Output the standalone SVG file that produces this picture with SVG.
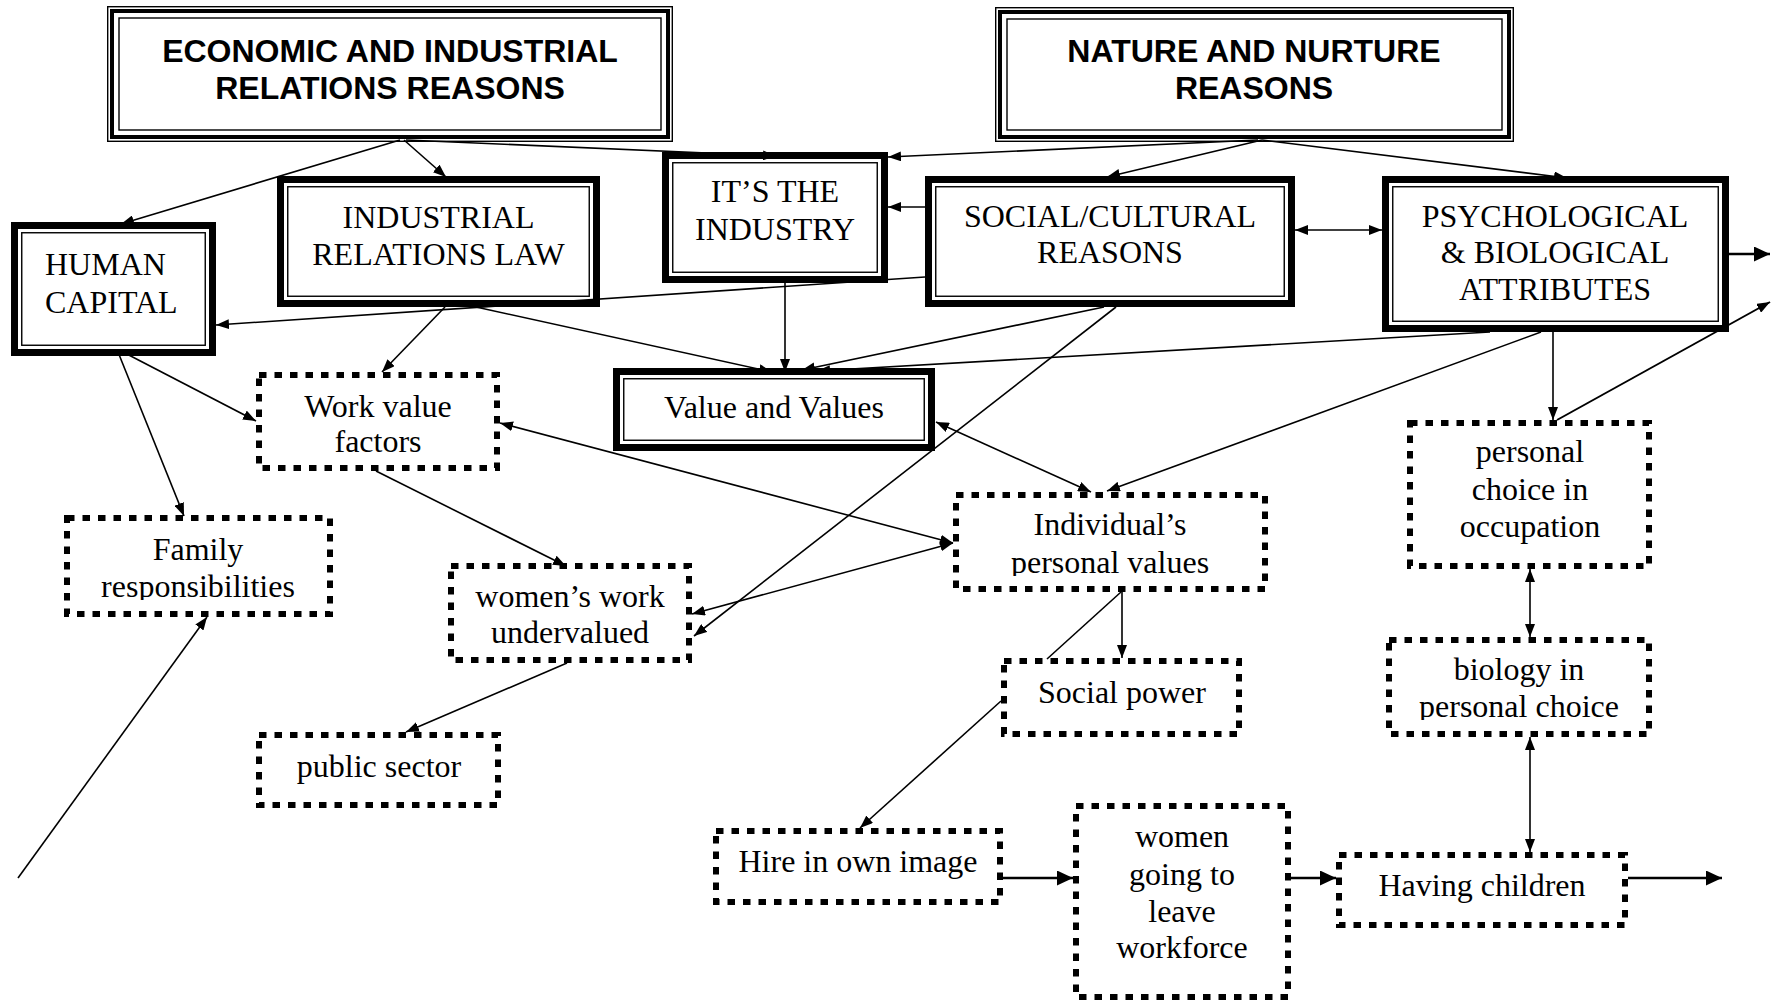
<svg xmlns="http://www.w3.org/2000/svg" width="1781" height="1003" viewBox="0 0 1781 1003">
<style>
.bg{fill:#fff}
.th{fill:none;stroke:#000;stroke-width:1.4}
.tk4{fill:none;stroke:#000;stroke-width:4}
.tk7{fill:#fff;stroke:#000;stroke-width:7}
.dot{fill:#fff;stroke:#000;stroke-width:6;stroke-dasharray:7.5 8}
.t{font-family:"Liberation Serif","Times New Roman",serif;font-size:32px;text-anchor:middle;fill:#000}
.tl{text-anchor:start}
.h{font-family:"Liberation Sans",Arial,sans-serif;font-size:32px;font-weight:bold;text-anchor:middle;fill:#000}
.c{fill:none;stroke:#000;stroke-width:1.6;marker-end:url(#a)}
.d{marker-start:url(#a)}
.n{marker-end:none}
.w{fill:none;stroke:#000;stroke-width:2.6;marker-end:url(#b)}
</style>
<defs>
<marker id="a" viewBox="0 0 13 10" refX="13" refY="5" markerWidth="13" markerHeight="10" orient="auto-start-reverse" markerUnits="userSpaceOnUse"><path d="M0,0L13,5L0,10z" fill="#000"/></marker>
<marker id="b" viewBox="0 0 16 15" refX="16" refY="7.5" markerWidth="16" markerHeight="15" orient="auto-start-reverse" markerUnits="userSpaceOnUse"><path d="M0,0L16,7.5L0,15z" fill="#000"/></marker>
<clipPath id="cpFam"><rect x="60" y="510" width="280" height="90"/></clipPath>
<clipPath id="cpInd"><rect x="950" y="488" width="320" height="88"/></clipPath>
<clipPath id="cpBio"><rect x="1380" y="632" width="280" height="88"/></clipPath>
</defs>
<rect class="bg" x="0" y="0" width="1781" height="1003"/>

<g id="econ">
<rect class="bg" x="107" y="6" width="566" height="136"/>
<rect class="th" x="107.7" y="6.7" width="564.6" height="134.6"/>
<rect class="tk4" x="112" y="11" width="556" height="126"/>
<rect class="th" x="119" y="18" width="542" height="112"/>
<text class="h" x="390" y="62">ECONOMIC AND INDUSTRIAL</text>
<text class="h" x="390" y="99">RELATIONS REASONS</text>
</g>

<g id="nature">
<rect class="bg" x="995" y="7" width="519" height="135"/>
<rect class="th" x="995.7" y="7.7" width="517.6" height="133.6"/>
<rect class="tk4" x="1000" y="12" width="509" height="125"/>
<rect class="th" x="1007" y="19" width="495" height="111"/>
<text class="h" x="1254" y="62">NATURE AND NURTURE</text>
<text class="h" x="1254" y="99">REASONS</text>
</g>

<g id="human-capital">
<rect class="tk7" x="14.5" y="225.5" width="198" height="127"/>
<rect class="th" x="21.75" y="232.75" width="183.5" height="112.5"/>
<text class="t tl" x="45" y="275">HUMAN</text>
<text class="t tl" x="45" y="313">CAPITAL</text>
</g>

<g id="ir-law">
<rect class="tk7" x="280.5" y="179.5" width="316" height="124"/>
<rect class="th" x="287.75" y="186.75" width="301.5" height="109.5"/>
<text class="t" x="438.5" y="228">INDUSTRIAL</text>
<text class="t" x="438.5" y="265">RELATIONS LAW</text>
</g>

<g id="industry">
<rect class="tk7" x="665.5" y="155.5" width="219" height="124"/>
<rect class="th" x="672.75" y="162.75" width="204.5" height="109.5"/>
<text class="t" x="775" y="202">IT’S THE</text>
<text class="t" x="775" y="240">INDUSTRY</text>
</g>

<g id="social">
<rect class="tk7" x="928.5" y="179.5" width="363" height="124"/>
<rect class="th" x="935.75" y="186.75" width="348.5" height="109.5"/>
<text class="t" x="1110" y="227">SOCIAL/CULTURAL</text>
<text class="t" x="1110" y="263">REASONS</text>
</g>

<g id="psych">
<rect class="tk7" x="1385.5" y="179.5" width="340" height="149"/>
<rect class="th" x="1392.75" y="186.75" width="325.5" height="134.5"/>
<text class="t" x="1555" y="227">PSYCHOLOGICAL</text>
<text class="t" x="1555" y="263">&amp; BIOLOGICAL</text>
<text class="t" x="1555" y="300">ATTRIBUTES</text>
</g>

<g id="value-values">
<rect class="tk7" x="616.5" y="371.5" width="315" height="76"/>
<rect class="th" x="623.75" y="378.75" width="300.5" height="61.5"/>
<text class="t" x="774" y="418">Value and Values</text>
</g>

<g id="work-value">
<rect class="dot" x="259" y="375" width="238" height="93"/>
<text class="t" x="378" y="417">Work value</text>
<text class="t" x="378" y="452">factors</text>
</g>

<g id="family">
<rect class="dot" x="67" y="518" width="263" height="96"/>
<g clip-path="url(#cpFam)">
<text class="t" x="198" y="560">Family</text>
<text class="t" x="198" y="597">responsibilities</text>
</g>
</g>

<g id="womens-work">
<rect class="dot" x="451" y="566" width="238" height="94"/>
<text class="t" x="570" y="607">women’s work</text>
<text class="t" x="570" y="643">undervalued</text>
</g>

<g id="public-sector">
<rect class="dot" x="259" y="735" width="239" height="70"/>
<text class="t" x="379" y="777">public sector</text>
</g>

<g id="individual">
<rect class="dot" x="956" y="495" width="309" height="94"/>
<g clip-path="url(#cpInd)">
<text class="t" x="1110" y="535">Individual’s</text>
<text class="t" x="1110" y="573">personal values</text>
</g>
</g>

<g id="social-power">
<rect class="dot" x="1004" y="661" width="235" height="73"/>
<text class="t" x="1122" y="703">Social power</text>
</g>

<g id="personal-choice">
<rect class="dot" x="1410" y="423" width="239" height="143"/>
<text class="t" x="1530" y="462">personal</text>
<text class="t" x="1530" y="500">choice in</text>
<text class="t" x="1530" y="537">occupation</text>
</g>

<g id="biology">
<rect class="dot" x="1389" y="640" width="260" height="94"/>
<g clip-path="url(#cpBio)">
<text class="t" x="1519" y="680">biology in</text>
<text class="t" x="1519" y="717">personal choice</text>
</g>
</g>

<g id="hire">
<rect class="dot" x="716" y="831" width="284" height="71"/>
<text class="t" x="858" y="872">Hire in own image</text>
</g>

<g id="women-leave">
<rect class="dot" x="1076" y="806" width="212" height="191"/>
<text class="t" x="1182" y="847">women</text>
<text class="t" x="1182" y="885">going to</text>
<text class="t" x="1182" y="922">leave</text>
<text class="t" x="1182" y="958">workforce</text>
</g>

<g id="having-children">
<rect class="dot" x="1339" y="855" width="286" height="70"/>
<text class="t" x="1482" y="896">Having children</text>
</g>

<g id="connectors">
<path class="c" d="M400,140L121,224"/>
<path class="c" d="M404,140L446,177"/>
<path class="c" d="M406,140L776,156"/>
<path class="c" d="M1258,140L888,157"/>
<path class="c" d="M1262,140L1107,177"/>
<path class="c" d="M1262,140L1567,178"/>
<path class="c" d="M925,207L888,207"/>
<path class="c d" d="M1295,230L1382,230"/>
<path class="c" d="M925,277L216,325"/>
<path class="c" d="M1104,307L802,370"/>
<path class="c" d="M1116,307L694,636"/>
<path class="c" d="M785,283L785,372"/>
<path class="c" d="M476,307L772,372"/>
<path class="c" d="M1490,332L817,371"/>
<path class="c" d="M445,307L382,372"/>
<path class="c" d="M123,352L256,421"/>
<path class="c" d="M118,352L184,516"/>
<path class="c" d="M18,878L207,617"/>
<path class="c" d="M376,471L566,566"/>
<path class="c d" d="M500,423L953,543"/>
<path class="c d" d="M692,614L953,543"/>
<path class="c" d="M567,663L406,732"/>
<path class="c d" d="M936,422L1091,492"/>
<path class="c" d="M1541,332L1107,491"/>
<path class="c" d="M1553,332L1553,420"/>
<path class="c" d="M1557,420L1770,302" style="stroke-width:2"/>
<path class="c d" d="M1530,569L1530,637"/>
<path class="c d" d="M1530,737L1530,852"/>
<path class="w" d="M1729,254L1770,254"/>
<path class="c n" d="M1121,592L1047,659"/>
<path class="c" d="M1001,701L860,828"/>
<path class="c" d="M1122,592L1122,658"/>
<path class="w" d="M1003,878L1073,878"/>
<path class="w" d="M1291,878L1336,878"/>
<path class="w" d="M1628,878L1722,878"/>
</g>
</svg>
